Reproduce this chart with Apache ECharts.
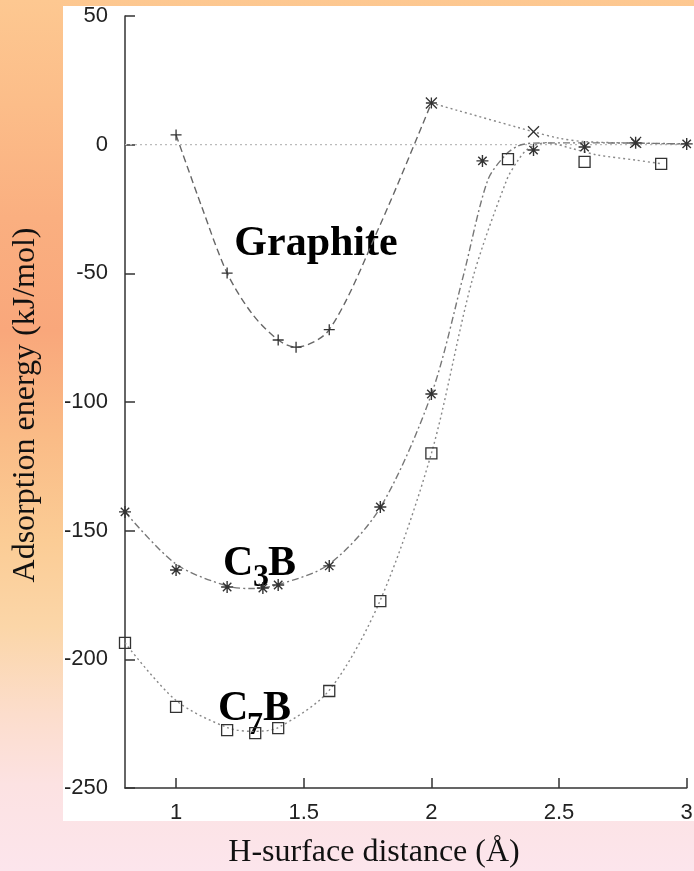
<!DOCTYPE html>
<html><head><meta charset="utf-8">
<script src="https://cdn.jsdelivr.net/npm/echarts@6/dist/echarts.min.js"></script>
<style>html,body{margin:0;padding:0;background:#fff;}#c{width:694px;height:871px;}</style>
</head><body><div id="c"></div>
<script>
// ---- data ----
const xTicks = [1, 1.5, 2, 2.5, 3];
const yMin = -250, yMax = 50, yStep = 50;
const zeroX = [0.8, 3.0];
const zeroY = [0, 0];

// Graphite (+ markers, dashed fit)
const graphiteX = [1.0, 1.2, 1.4, 1.47, 1.6, 2.0];
const graphiteY = [3.8, -49.9, -75.9, -78.7, -71.9, 16.2];
const graphiteFitX = [1.0, 1.1, 1.2, 1.3, 1.4, 1.47, 1.6, 1.8, 2.0];
const graphiteFitY = [3.8, -24, -49.9, -66, -75.9, -78.7, -71.9, -31, 16.2];
// Graphite long-range tail (x markers, dotted)
const tailX = [2.0, 2.4, 2.5, 2.6, 2.8, 3.0];
const tailY = [16.2, 5, 2.5, 1.2, 0.6, 0.2];
const tailMarkX = [2.0, 2.4, 2.8];
const tailMarkY = [16.2, 5, 0.9];

// C3B (asterisk markers, dash-dot fit)
const c3bX = [0.8, 1.0, 1.2, 1.34, 1.4, 1.6, 1.8, 2.0, 2.2, 2.4, 2.6, 2.8, 3.0];
const c3bY = [-142.7, -165.3, -171.9, -172.3, -171.1, -163.7, -140.8, -96.9, -6.3, -2.1, -0.9, 0.7, 0.3];
const c3bFitX = [0.8, 1.0, 1.2, 1.3, 1.4, 1.6, 1.8, 2.0, 2.125, 2.22, 2.29, 2.34, 2.4, 2.6, 2.8, 3.0];
const c3bFitY = [-142.7, -163, -171.5, -172.5, -171, -163, -141, -97, -51, -14, -4, -0.5, 0.6, 0.7, 0.6, 0.3];

// C7B (square markers, dotted fit)
const c7bX = [0.8, 1.0, 1.2, 1.31, 1.4, 1.6, 1.8, 2.0, 2.3, 2.6, 2.9];
const c7bY = [-193.6, -218.5, -227.5, -228.7, -226.7, -212.3, -177.4, -120, -5.6, -6.7, -7.5];
const c7bFitX = [0.8, 1.0, 1.2, 1.3, 1.4, 1.6, 1.8, 2.0, 2.16, 2.295, 2.34, 2.38, 2.45, 2.55, 2.65, 2.8, 2.9];
const c7bFitY = [-193.6, -216, -226.5, -228, -226.5, -212, -177, -120, -52.6, -13.7, -6, -1.5, 0.8, -1.5, -4, -6, -7.4];

// ---- build ----
const pairs = (xs, ys) => xs.map((v, i) => [v, ys[i]]);
const plusPath = 'path://M0,5L10,5M5,0L5,10';
const starPath = 'path://M0,5L10,5M5,0L5,10M1.5,1.5L8.5,8.5M8.5,1.5L1.5,8.5';
const crossPath = 'path://M0,0L10,10M10,0L0,10';

const lineSeries = (data, color, type, width) => ({
  type: 'line', data, smooth: 0.3, symbol: 'none', z: 2,
  lineStyle: { color, type, width }
});
const markSeries = (data, symbol, size, bw) => ({
  type: 'scatter', data, symbol, symbolSize: size, z: 4,
  itemStyle: { color: 'rgba(0,0,0,0)', borderColor: '#333', borderWidth: bw, opacity: 1 }
});

const chart = echarts.init(document.getElementById('c'), null, { renderer: 'canvas' });
const serif = '"Liberation Serif", "Times New Roman", serif';
const sans = '"Liberation Sans", Arial, sans-serif';

chart.setOption({
  animation: false,
  backgroundColor: {
    type: 'linear', x: 0, y: 0, x2: 0, y2: 1,
    colorStops: [
      { offset: 0, color: '#FDC891' },
      { offset: 0.12, color: '#FCBD89' },
      { offset: 0.25, color: '#FAAF80' },
      { offset: 0.38, color: '#F9A77B' },
      { offset: 0.5, color: '#FABB86' },
      { offset: 0.62, color: '#FBCC95' },
      { offset: 0.72, color: '#FBD6A8' },
      { offset: 0.82, color: '#FCDDCC' },
      { offset: 0.9, color: '#FCE2E2' },
      { offset: 1, color: '#FCE5EC' }
    ]
  },
  grid: { left: 125, right: 7.3, top: 16, bottom: 83, containLabel: false, outerBoundsMode: 'none' },
  xAxis: {
    type: 'value', min: 0.8, max: 3,
    axisLine: { show: true, onZero: false, lineStyle: { color: '#333', width: 1.5 } },
    axisTick: { show: true, inside: true, length: 10, customValues: xTicks, lineStyle: { color: '#333', width: 1.5 } },
    axisLabel: { customValues: xTicks, fontSize: 22, color: '#222', fontFamily: sans, margin: 14 },
    splitLine: { show: false }
  },
  yAxis: {
    type: 'value', min: yMin, max: yMax, interval: yStep,
    axisLine: { show: true, onZero: false, lineStyle: { color: '#333', width: 1.5 } },
    axisTick: { show: true, inside: true, length: 10, lineStyle: { color: '#333', width: 1.5 } },
    axisLabel: { fontSize: 22, color: '#222', fontFamily: sans, margin: 17, showMinLabel: true, showMaxLabel: true },
    splitLine: { show: false }
  },
  graphic: [
    { type: 'rect', z: -10, shape: { x: 63, y: 6, width: 631, height: 815 }, style: { fill: '#ffffff' } },
    { type: 'text', x: 316, y: 244, style: { text: 'Graphite', font: 'bold 42px ' + serif, fill: '#000', textAlign: 'center', textVerticalAlign: 'middle' } },
    { type: 'text', x: 223, y: 564, style: { text: 'C', font: 'bold 42px ' + serif, fill: '#000', textAlign: 'left', textVerticalAlign: 'middle' } },
    { type: 'text', x: 253, y: 578, style: { text: '3', font: 'bold 32px ' + serif, fill: '#000', textAlign: 'left', textVerticalAlign: 'middle' } },
    { type: 'text', x: 268, y: 564, style: { text: 'B', font: 'bold 42px ' + serif, fill: '#000', textAlign: 'left', textVerticalAlign: 'middle' } },
    { type: 'text', x: 218, y: 709, style: { text: 'C', font: 'bold 42px ' + serif, fill: '#000', textAlign: 'left', textVerticalAlign: 'middle' } },
    { type: 'text', x: 247, y: 726, style: { text: '7', font: 'bold 32px ' + serif, fill: '#000', textAlign: 'left', textVerticalAlign: 'middle' } },
    { type: 'text', x: 263, y: 709, style: { text: 'B', font: 'bold 42px ' + serif, fill: '#000', textAlign: 'left', textVerticalAlign: 'middle' } },
    { type: 'text', x: 374, y: 853, style: { text: 'H-surface distance (Å)', font: '32px ' + serif, fill: '#111', textAlign: 'center', textVerticalAlign: 'middle' } },
    { type: 'text', x: 26, y: 405, rotation: Math.PI / 2, style: { text: 'Adsorption energy (kJ/mol)', font: '32px ' + serif, fill: '#111', textAlign: 'center', textVerticalAlign: 'middle' } }
  ],
  series: [
    { type: 'line', data: pairs(zeroX, zeroY), symbol: 'none', z: 1, lineStyle: { color: '#bbb', type: [2, 3], width: 1.3 } },
    lineSeries(pairs(graphiteFitX, graphiteFitY), '#666', [7, 4], 1.4),
    lineSeries(pairs(tailX, tailY), '#888', [2, 3], 1.4),
    lineSeries(pairs(c3bFitX, c3bFitY), '#777', [7, 3, 2, 3], 1.4),
    lineSeries(pairs(c7bFitX, c7bFitY), '#888', [2, 3], 1.4),
    markSeries(pairs(graphiteX, graphiteY), plusPath, 11, 1.3),
    markSeries(pairs(tailMarkX, tailMarkY), crossPath, 11, 1.3),
    markSeries(pairs(c3bX, c3bY), starPath, 12, 1.4),
    markSeries(pairs(c7bX, c7bY), 'rect', 11, 1.3)
  ]
});
</script>
</body></html>
